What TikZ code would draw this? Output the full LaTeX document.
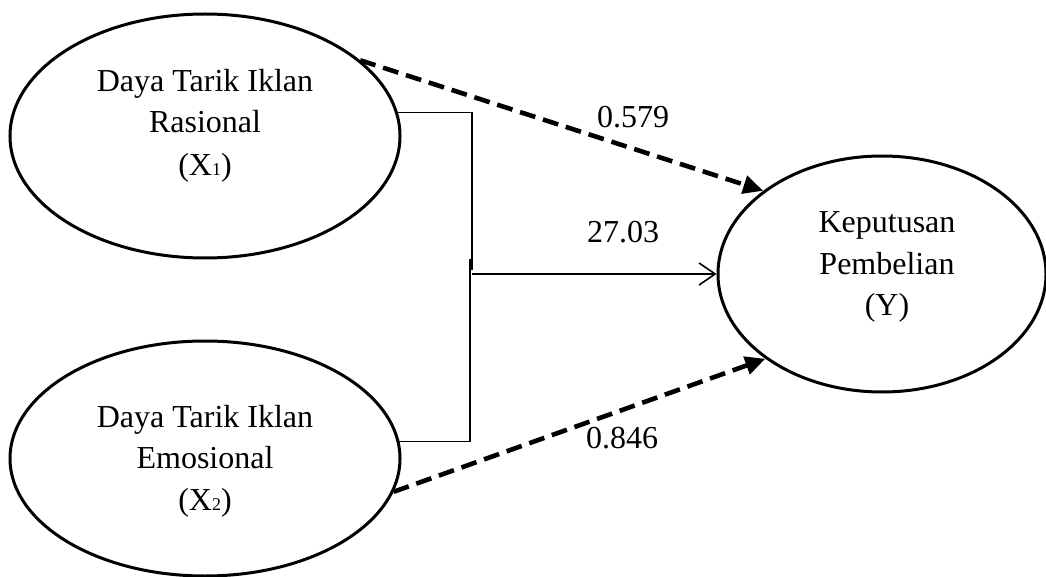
\documentclass[tikz,border=0pt]{standalone}
\usepackage{fontspec}
\setmainfont{Liberation Serif}
\usetikzlibrary{arrows.meta,shapes.geometric}
\newcommand{\subdig}[1]{{\fontsize{18}{18}\selectfont #1}}
\begin{document}
\begin{tikzpicture}[x=1pt,y=-1pt,
  latent/.style={draw,ellipse,line width=3pt,inner sep=0pt},
  txt/.style={font=\fontsize{32}{32}\selectfont,inner sep=0pt,anchor=base},
  thinline/.style={line width=1.6pt},
  dasharr/.style={line width=4.6pt,dash pattern=on 16pt off 8pt,-{Triangle[length=20pt,width=18pt]}},
  solidarr/.style={line width=1.6pt,-{Straight Barb[length=16pt,width=22pt,line width=1.6pt]}}]
\useasboundingbox (0,0) rectangle (1046,577);
% ellipses
\node[latent,minimum width=390pt,minimum height=244pt] (X1) at (205,136) {};
\node[latent,minimum width=390pt,minimum height=235pt] (X2) at (205,458.5) {};
\node[latent,minimum width=328pt,minimum height=236pt] (Y) at (882,274) {};
% texts
\node[txt] (x1a) at (205,92) {Daya Tarik Iklan};
\node[txt] (x1b) at (205,133) {Rasional};
\node[txt] (x1c) at (205,176) {(X\subdig{1})};
\node[txt] (x2a) at (205,427) {Daya Tarik Iklan};
\node[txt] (x2b) at (205,468) {Emosional};
\node[txt] (x2c) at (205,510) {(X\subdig{2})};
\node[txt] (ya) at (887,233) {Keputusan};
\node[txt] (yb) at (887,274) {Pembelian};
\node[txt] (yc) at (887,315) {(Y)};
% bracket
\coordinate (t1) at (472,270);
\coordinate (b1) at (470,259);
\coordinate (m) at (472,274);
\draw[thinline] (X1.7) -| (t1);
\draw[thinline] (b1) |- (X2.5);
\draw[solidarr] (m) -- (Y.west);
% dashed arrows
\draw[dasharr] (X1.26) -- (Y.145);
\draw[dasharr] (X2.-10) -- (Y.216);
% labels
\node[txt] (l1) at (633,128) {0.579};
\node[txt] (l2) at (623,243) {27.03};
\node[txt] (l3) at (622,448) {0.846};
\end{tikzpicture}
\end{document}
